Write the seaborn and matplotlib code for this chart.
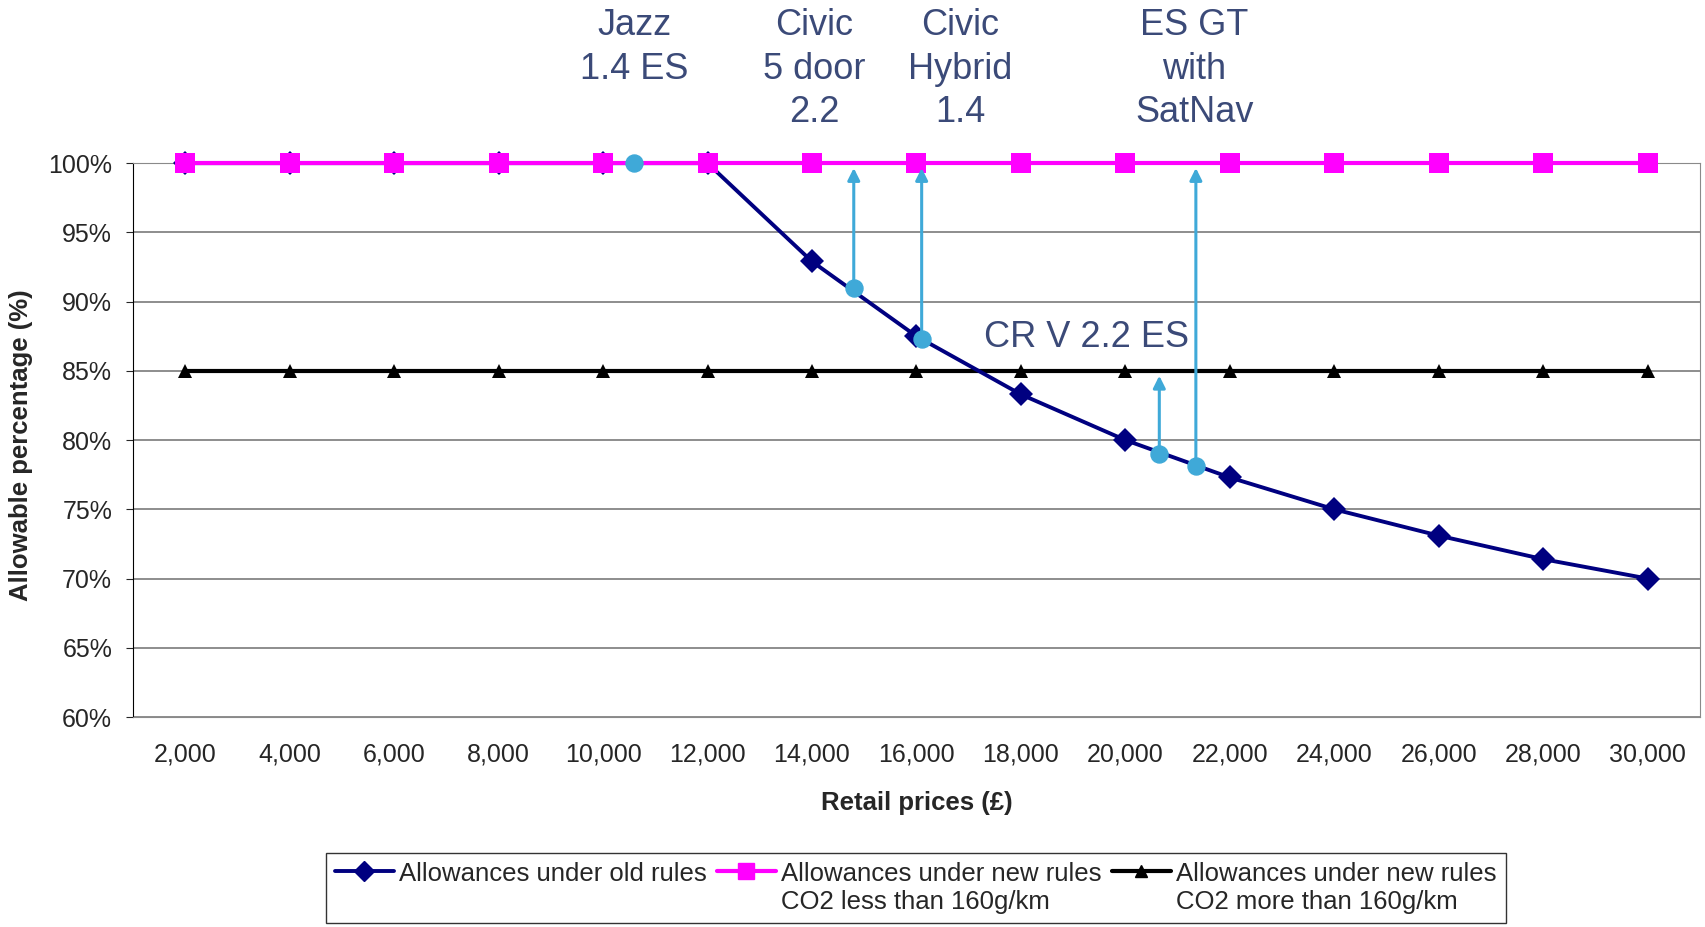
import numpy as np
import pandas as pd
import matplotlib
matplotlib.use("Agg")
import matplotlib.pyplot as plt
from matplotlib.lines import Line2D
import seaborn as sns

# chart data
prices = [2000, 4000, 6000, 8000, 10000, 12000, 14000, 16000, 18000,
          20000, 22000, 24000, 26000, 28000, 30000]
old_rules = [100, 100, 100, 100, 100, 100, 92.9, 87.5, 83.3,
             80.0, 77.3, 75.0, 73.1, 71.4, 70.0]
new_low_co2 = [100] * 15
new_high_co2 = [85] * 15

car_names = ["Jazz\n1.4 ES", "Civic\n5 door\n2.2", "Civic\nHybrid\n1.4",
             "CR V 2.2 ES", "ES GT\nwith\nSatNav"]
car_prices = [10600, 14800, 16100, 20650, 21350]
car_pct = [100.0, 90.95, 87.3, 79.0, 78.1]
car_target = [None, 100, 100, 85, 100]

y_ticks = [60, 65, 70, 75, 80, 85, 90, 95, 100]

sns.set_style("white")
plt.rcParams["font.family"] = ["Liberation Sans", "DejaVu Sans"]

df = pd.DataFrame({"price": prices, "old": old_rules,
                   "low": new_low_co2, "high": new_high_co2})

fig = plt.figure(figsize=(17.05, 9.27), dpi=100)
ax = fig.add_axes([0.078, 0.2265, 0.919, 0.5975])

navy = "#000080"
magenta = "#ff00ff"
cyan = "#3fa9d8"
txt_col = "#3b4a78"

sns.lineplot(data=df, x="price", y="high", ax=ax, color="black", lw=3,
             marker="^", markersize=10, markeredgewidth=0, clip_on=False, zorder=3)
sns.lineplot(data=df, x="price", y="old", ax=ax, color=navy, lw=2.8,
             marker="D", markersize=12, markeredgewidth=0, clip_on=False, zorder=4)
sns.lineplot(data=df, x="price", y="low", ax=ax, color=magenta, lw=3,
             marker="s", markersize=14, markeredgewidth=0, clip_on=False, zorder=5)

# arrows from the cars up to the new allowance
for p, v, t in zip(car_prices, car_pct, car_target):
    if t is not None:
        ax.annotate("", xy=(p, t - 0.35), xytext=(p, v),
                    arrowprops=dict(arrowstyle="-|>", color=cyan, lw=2.2,
                                    mutation_scale=18, shrinkA=0, shrinkB=0),
                    zorder=6)
ax.scatter(car_prices, car_pct, s=150, color=cyan, zorder=7, clip_on=False)

# car labels
label_x = [10600, 14050, 16840, 19260, 21320]
for name, lx in zip(car_names, label_x):
    if name.startswith("CR V"):
        ax.text(lx, 87.4, name, ha="center", va="center", fontsize=26,
                color=txt_col)
    else:
        ax.text(lx, 111.2, name, ha="center", va="top", fontsize=26,
                color=txt_col, linespacing=1.32, clip_on=False)

ax.set_xlim(1000, 31000)
ax.set_ylim(60, 100)
ax.set_xticks(prices)
ax.set_xticklabels([f"{p:,}" for p in prices])
ax.set_xticks(np.arange(1000, 31001, 2000), minor=True)
ax.set_yticks(y_ticks)
ax.set_yticklabels([f"{y}%" for y in y_ticks])
ax.tick_params(axis="x", which="major", length=0, pad=18, labelsize=18)
ax.tick_params(axis="x", which="minor", length=6, color="black", direction="out")
ax.tick_params(axis="y", length=5, pad=10, labelsize=18, direction="out", left=True)

ax.grid(axis="y", color="#7a7a7a", lw=1.2)
ax.grid(axis="x", visible=False)
ax.set_axisbelow(True)
for side in ["top", "right", "bottom"]:
    ax.spines[side].set_color("#8a8a8a")
ax.spines["left"].set_color("black")

ax.set_xlabel("Retail prices (£)", fontsize=18.5, fontweight="bold")
ax.set_ylabel("Allowable percentage (%)", fontsize=18.5, fontweight="bold")
ax.xaxis.set_label_coords(0.5, -0.133)
ax.yaxis.set_label_coords(-0.064, 0.49)

handles = [
    Line2D([], [], color=navy, lw=2.8, marker="D", markersize=10),
    Line2D([], [], color=magenta, lw=3, marker="s", markersize=11),
    Line2D([], [], color="black", lw=3, marker="^", markersize=9),
]
labels = ["Allowances under old rules\n ",
          "Allowances under new rules\nCO2 less than 160g/km",
          "Allowances under new rules\nCO2 more than 160g/km"]
leg = fig.legend(handles, labels, loc="center", bbox_to_anchor=(0.537, 0.042),
                 ncol=3, fontsize=18.5, frameon=True, fancybox=False,
                 handlelength=2.3, handletextpad=0.2, columnspacing=0.4,
                 borderpad=0.35, edgecolor="black")
leg.get_frame().set_linewidth(1.0)
# put the line handles next to the first text line
for col in leg._legend_handle_box.get_children():
    for item in col.get_children():
        item.align = "top"

fig.savefig("out.png", dpi=100)
